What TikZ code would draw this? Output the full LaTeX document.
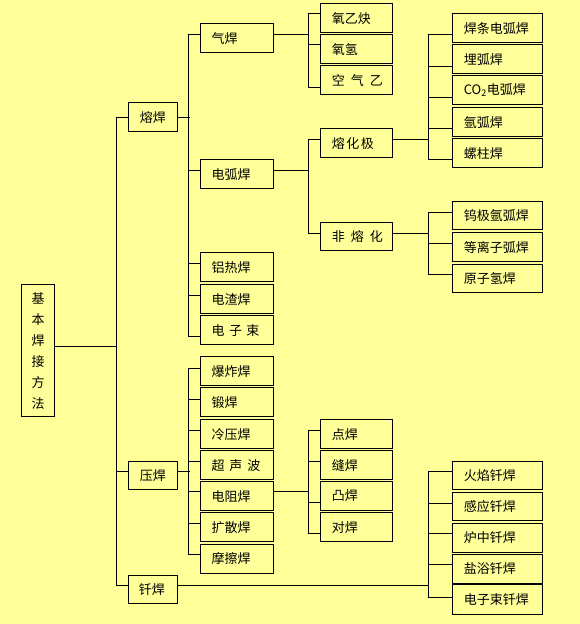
\documentclass[tikz,border=0pt]{standalone}
\usepackage{fontspec}
\newfontfamily\cjk{Noto Sans CJK SC}
\definecolor{bg}{RGB}{255,255,153}
\begin{document}
\begin{tikzpicture}[x=1pt,y=-1pt,line width=1pt,
  box/.style={draw, fill=bg, anchor=north west, inner xsep=11pt, inner ysep=0pt,
    minimum height=28.6pt, align=left, font=\cjk\fontsize{13}{15}\selectfont},
  cA/.style={box, minimum width=49pt, text width=27pt},
  cB/.style={box, minimum width=72.7pt, text width=50.7pt},
  cC/.style={box, minimum width=72pt, text width=50pt},
  cD/.style={box, minimum width=90pt, text width=68pt}]
\fill[bg] (0,0) rectangle (580,624);
\useasboundingbox (0,0) rectangle (580,624);

% root
\node[draw, fill=bg, anchor=north west, minimum width=33.6pt, minimum height=131.7pt,
  inner sep=0pt, align=center, font=\cjk\fontsize{13}{21}\selectfont] (root) at (20.7,284.3)
  {基\\本\\焊\\接\\方\\法};

% column 1
\node[cA] (rh) at (128.3,102.3) {熔焊};
\node[cA] (yh) at (128.3,460.7) {压焊};
\node[cA, inner xsep=10pt, text width=29pt, minimum height=28pt] (qh) at (128.3,575.3) {钎焊};

% column 2
\node[cB] (qih) at (200,23.3) {气焊};
\node[cB] (dhh) at (200,159.3) {电弧焊};
\node[cB] (lrh) at (200,252.3) {铝热焊};
\node[cB] (dzh) at (200,284.3) {电渣焊};
\node[cB] (dzs) at (200,315.3) {电\kern4.5pt 子\kern4.5pt 束};
\node[cB] (bzh) at (200,356.3) {爆炸焊};
\node[cB] (dh) at (200,387.3) {锻焊};
\node[cB] (lyh) at (200,419.3) {冷压焊};
\node[cB] (csb) at (200,450.3) {超\kern5pt 声\kern5pt 波};
\node[cB] (dzuh) at (200,481.3) {电阻焊};
\node[cB] (ksh) at (200,512.3) {扩散焊};
\node[cB] (mch) at (200,544) {摩擦焊};

% column 3
\node[cC] (yyq) at (320.3,3.3) {氧乙炔};
\node[cC] (yq) at (320.3,34.3) {氧氢};
\node[cC] (kqy) at (320.3,65.3) {空\kern6pt 气\kern6pt 乙};
\node[cC] (rhj) at (320.3,128.3) {熔\kern1.5pt 化\kern1.5pt 极};
\node[cC] (frh) at (320.3,221.7) {非\kern6pt 熔\kern6pt 化};
\node[cC] (dianh) at (320.3,419.3) {点焊};
\node[cC] (fh) at (320.3,450.3) {缝焊};
\node[cC] (th) at (320.3,481.3) {凸焊};
\node[cC] (duih) at (320.3,512.3) {对焊};

% column 4
\node[cD] (htdh) at (452.3,13.3) {焊条电弧焊};
\node[cD] (mhh) at (452.3,44.3) {埋弧焊};
\node[cD] (co) at (452.3,75.3) {CO\textsubscript{2}电弧焊};
\node[cD] (yhh) at (452.3,107.3) {氩弧焊};
\node[cD] (lzh) at (452.3,138.3) {螺柱焊};
\node[cD] (wj) at (452.3,200.7) {钨极氩弧焊};
\node[cD] (dlz) at (452.3,232.3) {等离子弧焊};
\node[cD] (yzq) at (452.3,263.7) {原子氢焊};
\node[cD] (hy) at (452.3,460.7) {火焰钎焊};
\node[cD] (gy) at (452.3,491.7) {感应钎焊};
\node[cD] (lz) at (452.3,523) {炉中钎焊};
\node[cD] (yy) at (452.3,554) {盐浴钎焊};
\node[cD, minimum height=29.7pt] (dzsq) at (452.3,584.3) {电子束钎焊};

% root -> level 1
\draw ([yshift=4.15pt]root.east) -- ++(62,0);
\draw ([yshift=-0.5pt]rh.west) -- ++(-12,0) |- ([yshift=4pt]qh.west);
\draw ([yshift=3.7pt]yh.west) -- ++(-12,0);

% 熔焊 group
\draw ([yshift=-0.5pt]rh.east) -- ++(11.4,0);
\draw ([yshift=3.8pt]qih.west) -- ++(-11.3,0) |- ([yshift=-6.7pt]dzs.west);
\draw ([yshift=4pt]dhh.west) -- ++(-11.3,0);
\draw ([yshift=3.5pt]lrh.west) -- ++(-11.3,0);
\draw ([yshift=4pt]dzh.west) -- ++(-11.3,0);

% 压焊 group
\draw ([yshift=3.7pt]yh.east) -- ++(11.4,0);
\draw ([yshift=3.1pt]bzh.west) -- ++(-11.3,0) |- ([yshift=3.9pt]mch.west);
\draw ([yshift=3.1pt]dh.west) -- ++(-11.3,0);
\draw ([yshift=4pt]lyh.west) -- ++(-11.3,0);
\draw ([yshift=4.1pt]csb.west) -- ++(-11.3,0);
\draw ([yshift=4.8pt]dzuh.west) -- ++(-11.3,0);
\draw ([yshift=3.5pt]ksh.west) -- ++(-11.3,0);

% 气焊 group
\draw ([yshift=3.8pt]qih.east) -- ++(35.6,0);
\draw ([yshift=4.2pt]yyq.west) -- ++(-12,0) |- ([yshift=-6.9pt]kqy.west);
\draw ([yshift=4.5pt]yq.west) -- ++(-12,0);

% 电弧焊 group
\draw ([yshift=4pt]dhh.east) -- ++(35.6,0);
\draw ([yshift=4pt]rhj.west) -- ++(-12,0) |- ([yshift=3.3pt]frh.west);

% 电阻焊 group
\draw ([yshift=4.8pt]dzuh.east) -- ++(35.6,0);
\draw ([yshift=4pt]dianh.west) -- ++(-12,0) |- ([yshift=-6.5pt]duih.west);
\draw ([yshift=4.1pt]fh.west) -- ++(-12,0);
\draw ([yshift=-6.5pt]th.west) -- ++(-12,0);

% 熔化极 group
\draw ([yshift=4pt]rhj.east) -- ++(36,0);
\draw ([yshift=-6.2pt]htdh.west) -- ++(-24,0) |- ([yshift=-6.6pt]lzh.west);
\draw ([yshift=-7pt]mhh.west) -- ++(-24,0);
\draw ([yshift=-6.9pt]co.west) -- ++(-24,0);
\draw ([yshift=-6.8pt]yhh.west) -- ++(-24,0);

% 非熔化 group
\draw ([yshift=3.3pt]frh.east) -- ++(36,0);
\draw ([yshift=3.3pt]wj.west) -- ++(-24,0) |- ([yshift=4.5pt]yzq.west);
\draw ([yshift=3.6pt]dlz.west) -- ++(-24,0);

% 钎焊 group
\draw ([yshift=4pt]qh.east) -- ++(251,0);
\draw ([yshift=4pt]hy.west) -- ++(-24,0) |- ([yshift=2.5pt]dzsq.west);
\draw ([yshift=3.5pt]gy.west) -- ++(-24,0);
\draw ([yshift=4pt]lz.west) -- ++(-24,0);
\draw ([yshift=4.4pt]yy.west) -- ++(-24,0);
\end{tikzpicture}
\end{document}
